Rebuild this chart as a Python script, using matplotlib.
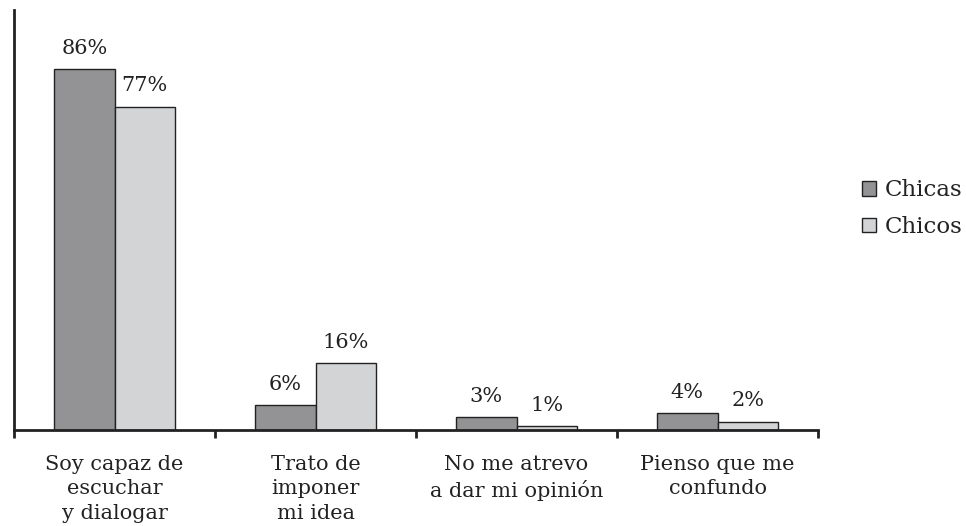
import matplotlib
matplotlib.use("Agg")
import matplotlib.pyplot as plt
import numpy as np

categories = ["Soy capaz de\nescuchar\ny dialogar", "Trato de\nimponer\nmi idea",
              "No me atrevo\na dar mi opinión", "Pienso que me\nconfundo"]
chicas = [86, 6, 3, 4]
chicos = [77, 16, 1, 2]
series_names = ["Chicas", "Chicos"]

plt.rcParams['font.family'] = ['DejaVu Serif']
fig = plt.figure(figsize=(9.66, 5.26), dpi=100)
ax = fig.add_axes([0.0145, 0.1825, 0.8323, 0.7985])

x = np.arange(len(categories))
w = 0.3
c1, c2 = "#939396", "#d3d4d6"
b1 = ax.bar(x - w/2, chicas, w, color=c1, edgecolor="#222222", linewidth=1, label=series_names[0])
b2 = ax.bar(x + w/2, chicos, w, color=c2, edgecolor="#222222", linewidth=1, label=series_names[1])

for bars, vals in ((b1, chicas), (b2, chicos)):
    for r, v in zip(bars, vals):
        ax.annotate(f"{v}%", (r.get_x() + r.get_width()/2, v), xytext=(0, 8),
                    textcoords="offset points", ha="center", va="bottom", fontsize=15, color="#222222")

ax.set_xlim(-0.5, len(categories) - 0.5)
ax.set_ylim(0, 100)
ax.set_xticks(np.arange(len(categories) + 1) - 0.5)
ax.set_xticklabels([])
ax.set_xticks(x, minor=True)
ax.set_xticklabels(categories, minor=True, fontsize=15, color="#222222", linespacing=1.35)
ax.tick_params(axis="x", which="major", direction="out", length=6, width=2, color="#222222")
ax.tick_params(axis="x", which="minor", length=0, pad=18)
ax.set_yticks([])
for s in ("top", "right"):
    ax.spines[s].set_visible(False)
ax.spines["left"].set_linewidth(2)
ax.spines["bottom"].set_linewidth(2)
ax.spines["left"].set_color("#222222")
ax.spines["bottom"].set_color("#222222")

leg = fig.legend(handles=[b1, b2], labels=series_names, loc="center left",
                 bbox_to_anchor=(0.883, 0.603), frameon=False, fontsize=16.5,
                 handlelength=0.6, handleheight=0.6, handletextpad=0.4, labelspacing=0.65,
                 borderaxespad=0, labelcolor="#222222")

fig.savefig("out.png", dpi=100)
